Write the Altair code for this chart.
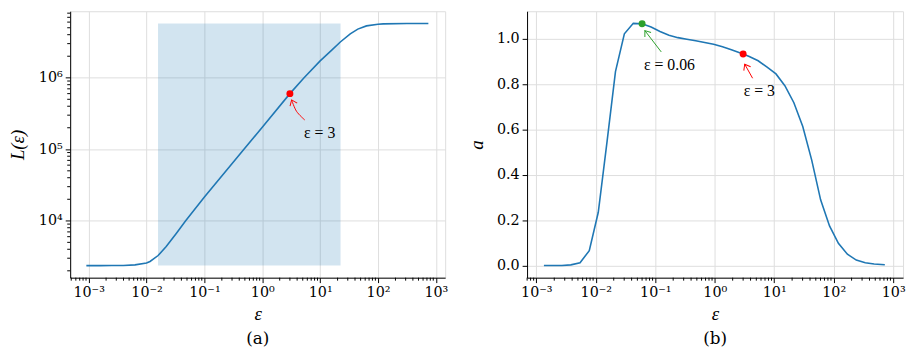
import altair as alt
import pandas as pd

# ---------------- data ----------------
# panel (a): L(eps), log-log
left_eps = [0.000912, 0.00158, 0.00251, 0.00398, 0.00631, 0.01, 0.01148, 0.01585,
            0.02188, 0.03236, 0.04742, 0.1, 0.482, 1.0, 3.0, 5.27, 10.0, 15.85,
            22.3, 33.1, 44.7, 63.1, 100.0, 123.0, 316.0, 741.0]
left_L = [2365, 2365, 2367, 2375, 2420, 2570, 2700, 3270,
          4365, 6610, 10000, 21500, 100000, 204000, 600000, 1.0e6, 1.72e6, 2.43e6,
          3.16e6, 4.12e6, 4.79e6, 5.31e6, 5.6e6, 5.66e6, 5.73e6, 5.75e6]
span_eps = [0.0158, 22.5]
span_L = [2365, 5.75e6]
left_mark_eps = [3.0]
left_mark_L = [600000]
left_label_eps = [5.27]
left_label_L = [1.71e5]
left_label_text = ["ε = 3"]
left_arrow_eps = [5.42, 3.91, 3.21]
left_arrow_L = [2.57e5, 3.39e5, 4.9e5]

# panel (b): a(eps)
right_eps = [0.00134, 0.00191, 0.00269, 0.0038, 0.00543, 0.00776, 0.011, 0.0155,
             0.0214, 0.0302, 0.0427, 0.06, 0.0851, 0.12, 0.17, 0.24, 0.339, 0.479,
             0.676, 0.955, 1.35, 1.905, 3.0, 3.8, 5.37, 7.59, 10.7, 15.1, 21.4,
             30.2, 42.7, 60.3, 85.1, 120.0, 170.0, 240.0, 339.0, 479.0, 724.0]
right_a = [0.0, 0.0, 0.0005, 0.003, 0.012, 0.066, 0.235, 0.55,
           0.855, 1.022, 1.068, 1.066, 1.052, 1.032, 1.016, 1.005, 0.998, 0.991,
           0.984, 0.976, 0.965, 0.952, 0.933, 0.922, 0.903, 0.875, 0.845, 0.793, 0.718,
           0.613, 0.465, 0.29, 0.175, 0.098, 0.05, 0.024, 0.012, 0.007, 0.004]
green_eps = [0.06]
green_a = [1.066]
red_eps = [3.0]
red_a = [0.933]
green_label_eps = [0.0645]
green_label_a = [0.884]
green_label_text = ["ε = 0.06"]
red_label_eps = [3.07]
red_label_a = [0.768]
red_label_text = ["ε = 3"]
green_arrow_eps = [0.126, 0.0668]
green_arrow_a = [0.942, 1.036]
red_arrow_eps = [4.33, 3.19]
red_arrow_a = [0.826, 0.888]

# ticks
left_x_ticks = [0.001, 0.01, 0.1, 1, 10, 100, 1000]
left_x_labels = ["10⁻³", "10⁻²", "10⁻¹", "10⁰", "10¹", "10²", "10³"]
left_y_ticks = [1e4, 1e5, 1e6]
left_y_labels = ["10⁴", "10⁵", "10⁶"]
right_y_ticks = [0.0, 0.2, 0.4, 0.6, 0.8, 1.0]

left_x_domain = [0.000479, 1445]
left_y_domain = [1603, 8.51e6]
right_x_domain = [0.000698, 1466]
right_y_domain = [-0.0534, 1.1214]

FONT = "DejaVu Serif"
MATH = "Liberation Serif"
BLUE = "#1f77b4"
W, H = 380, 270


def minors(domain):
    out = []
    for e in range(-5, 8):
        for m in range(2, 10):
            v = m * 10.0 ** e
            if domain[0] <= v <= domain[1]:
                out.append(v)
    return out


def label_expr(ticks, labels):
    expr = "''"
    for t, l in reversed(list(zip(ticks, labels))):
        expr = f"datum.value == {t} ? '{l}' : ({expr})"
    return expr


axis_common = dict(labelFont=FONT, labelColor="black", labelFontSize=14.5,
                   titleFont=MATH, titleFontSize=19, titleFontWeight="normal",
                   titleFontStyle="italic",
                   titleColor="black", domainColor="black", tickColor="black",
                   tickSize=5, gridColor="#dddddd", labelOverlap=False,
                   labelFlush=False, labelPadding=3)


def chevron(df_tip, color, angle, xenc, yenc):
    return alt.Chart(df_tip).mark_point(
        shape="M-1,-0.75L0,0L-1,0.75", filled=False, color=color,
        strokeWidth=1, size=110, angle=angle, opacity=1
    ).encode(x=xenc, y=yenc)


TXT = dict(font=MATH, fontSize=16, align="left", baseline="middle", color="black")
PANEL_TITLE = dict(orient="bottom", anchor="middle", frame="group",
                   font=FONT, fontSize=17, fontWeight="normal", color="black", offset=8)

# ---------------- panel (a) ----------------
lx = alt.X("eps:Q", scale=alt.Scale(type="log", domain=left_x_domain, nice=False),
           axis=alt.Axis(values=left_x_ticks, labelExpr=label_expr(left_x_ticks, left_x_labels),
                         title="ε", titlePadding=6, **axis_common))
ly = alt.Y("val:Q", scale=alt.Scale(type="log", domain=left_y_domain, nice=False),
           axis=alt.Axis(values=left_y_ticks, labelExpr=label_expr(left_y_ticks, left_y_labels),
                         title="L(ε)", titlePadding=11, **axis_common))

df_left = pd.DataFrame({"eps": left_eps, "val": left_L})
df_span = pd.DataFrame({"eps": [span_eps[0]], "eps2": [span_eps[1]],
                        "val": [span_L[0]], "val2": [span_L[1]]})

span = alt.Chart(df_span).mark_rect(color=BLUE, opacity=0.2).encode(
    x=lx, x2="eps2:Q", y=ly, y2="val2:Q")
line_l = alt.Chart(df_left).mark_line(color=BLUE, strokeWidth=1.6).encode(x=lx, y=ly)
pt_l = alt.Chart(pd.DataFrame({"eps": left_mark_eps, "val": left_mark_L})).mark_circle(
    color="red", opacity=1, size=50).encode(x=lx, y=ly)
arr_l = alt.Chart(pd.DataFrame({"eps": left_arrow_eps, "val": left_arrow_L})).mark_line(
    color="red", strokeWidth=1, interpolate="cardinal").encode(x=lx, y=ly)
head_l = chevron(pd.DataFrame({"eps": left_arrow_eps[-1:], "val": left_arrow_L[-1:]}),
                 "red", 247, lx, ly)
txt_l = alt.Chart(pd.DataFrame({"eps": left_label_eps, "val": left_label_L, "t": left_label_text})).mark_text(
    **TXT).encode(x=lx, y=ly, text="t:N")

xmin_l = alt.Chart(pd.DataFrame({"eps": minors(left_x_domain)})).mark_rule(
    color="black", strokeWidth=1).encode(x=lx, y=alt.value(H), y2=alt.value(H + 3))
ymin_l = alt.Chart(pd.DataFrame({"val": minors(left_y_domain)})).mark_rule(
    color="black", strokeWidth=1).encode(y=ly, x=alt.value(0), x2=alt.value(-3))

left = alt.layer(span, line_l, arr_l, head_l, pt_l, txt_l, xmin_l, ymin_l).properties(
    width=W, height=H, title=alt.TitleParams("(a)", **PANEL_TITLE))

# ---------------- panel (b) ----------------
rx = alt.X("eps:Q", scale=alt.Scale(type="log", domain=right_x_domain, nice=False),
           axis=alt.Axis(values=left_x_ticks, labelExpr=label_expr(left_x_ticks, left_x_labels),
                         title="ε", titlePadding=6, **axis_common))
ry = alt.Y("val:Q", scale=alt.Scale(domain=right_y_domain, nice=False, zero=False),
           axis=alt.Axis(values=right_y_ticks, format=".1f",
                         title="a", titlePadding=10, **axis_common))

df_right = pd.DataFrame({"eps": right_eps, "val": right_a})
line_r = alt.Chart(df_right).mark_line(color=BLUE, strokeWidth=1.6).encode(x=rx, y=ry)
g_pt = alt.Chart(pd.DataFrame({"eps": green_eps, "val": green_a})).mark_circle(
    color="#2ca02c", opacity=1, size=50).encode(x=rx, y=ry)
r_pt = alt.Chart(pd.DataFrame({"eps": red_eps, "val": red_a})).mark_circle(
    color="red", opacity=1, size=50).encode(x=rx, y=ry)
g_arr = alt.Chart(pd.DataFrame({"eps": green_arrow_eps, "val": green_arrow_a})).mark_line(
    color="#2ca02c", strokeWidth=1).encode(x=rx, y=ry)
r_arr = alt.Chart(pd.DataFrame({"eps": red_arrow_eps, "val": red_arrow_a})).mark_line(
    color="red", strokeWidth=1).encode(x=rx, y=ry)
g_head = chevron(pd.DataFrame({"eps": green_arrow_eps[-1:], "val": green_arrow_a[-1:]}),
                 "#2ca02c", 233, rx, ry)
r_head = chevron(pd.DataFrame({"eps": red_arrow_eps[-1:], "val": red_arrow_a[-1:]}),
                 "red", 241, rx, ry)
g_txt = alt.Chart(pd.DataFrame({"eps": green_label_eps, "val": green_label_a, "t": green_label_text})).mark_text(
    **TXT).encode(x=rx, y=ry, text="t:N")
r_txt = alt.Chart(pd.DataFrame({"eps": red_label_eps, "val": red_label_a, "t": red_label_text})).mark_text(
    **TXT).encode(x=rx, y=ry, text="t:N")
xmin_r = alt.Chart(pd.DataFrame({"eps": minors(right_x_domain)})).mark_rule(
    color="black", strokeWidth=1).encode(x=rx, y=alt.value(H), y2=alt.value(H + 3))

right = alt.layer(line_r, g_arr, r_arr, g_head, r_head, g_pt, r_pt, g_txt, r_txt, xmin_r).properties(
    width=W + 1, height=H, title=alt.TitleParams("(b)", **PANEL_TITLE))

chart = alt.hconcat(left, right, spacing=18).properties(
    padding={"left": 0, "top": 0, "right": 0, "bottom": 0}
).configure_view(stroke="black", strokeWidth=1).configure(font=FONT)

chart.save("out.html", embed_options={"renderer": "svg", "actions": False})
